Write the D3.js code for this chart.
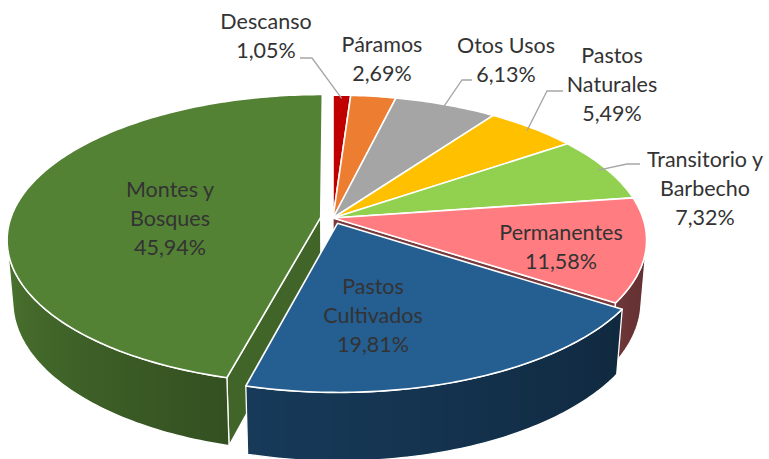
<!DOCTYPE html>
<html>
<head>
<meta charset="utf-8">
<script src="https://cdn.jsdelivr.net/npm/d3@7"></script>
<style>
  body { margin: 0; background: #fff; }
  svg text { font-family: Lato, "Open Sans", sans-serif; fill: #333; }
</style>
</head>
<body>
<div id="chart"></div>
<script>
// data
const categories = ["Descanso", "Páramos", "Otos Usos", "Pastos Naturales",
  "Transitorio y Barbecho", "Permanentes", "Pastos Cultivados", "Montes y Bosques"];
const values = [1.05, 2.69, 6.13, 5.49, 7.32, 11.58, 19.81, 45.94];
const valueLabels = ["1,05%", "2,69%", "6,13%", "5,49%", "7,32%", "11,58%", "19,81%", "45,94%"];
const nameLines = [["Descanso"], ["Páramos"], ["Otos Usos"], ["Pastos", "Naturales"],
  ["Transitorio y", "Barbecho"], ["Permanentes"], ["Pastos", "Cultivados"], ["Montes y", "Bosques"]];
const colors = ["#C00000", "#ED7D31", "#A5A5A5", "#FFC000", "#92D050", "#FF7C80", "#255E91", "#548235"];
const explode = [0, 0, 0, 0, 0, 0, 0.04, 0.04];

const width = 769;
const height = 459;

// label placement (centre x, first baseline) and leader elbows
const labelPos = [
  {x: 266, y: 29, line: [300, 58, 312, 58]},
  {x: 382, y: 52},
  {x: 506, y: 53, line: [472, 80, 462, 80]},
  {x: 612, y: 63, line: [563, 91, 547, 91]},
  {x: 705, y: 167, line: [640, 164, 627, 164]},
  {x: 561, y: 240},
  {x: 373, y: 294},
  {x: 170, y: 197}
];
const lineGap = 29;

// 3d projection of the pie (radius 1 world units)
const cx = 333, cy = 218, f = 1813, D = 5.85, H = 0.225;
const sinP = 0.457, cosP = Math.sqrt(1 - sinP * sinP);
const cam = [0, -D * cosP, D * sinP];

function proj(X, Y, Z) {
  const depth = D + Y * cosP - Z * sinP;
  const up = Y * sinP + Z * cosP;
  return [cx + f * X / depth, cy - f * up / depth, depth];
}

const sideShade = d3.scaleLinear().domain([100, 195, 260]).range([0.37, 0.62, 0.9]).clamp(true);
function shade(c, k) {
  const r = d3.rgb(c);
  return d3.rgb(r.r * k, r.g * k, r.b * k).formatHex();
}

const data = categories.map((c, i) => ({name: c, value: values[i], i: i}));
const arcs = d3.pie().sort(null).value(d => d.value).startAngle(0).endAngle(2 * Math.PI)(data);

const svg = d3.select("#chart").append("svg")
  .attr("width", width)
  .attr("height", height);
const defs = svg.append("defs");

const faces = [];
const tops = [];
const step = Math.PI / 180;
let gid = 0;

arcs.forEach(a => {
  const i = a.data.i;
  const mid = (a.startAngle + a.endAngle) / 2;
  const ox = explode[i] * Math.sin(mid), oy = explode[i] * Math.cos(mid);
  const pt = (r, t, z) => proj(ox + r * Math.sin(t), oy + r * Math.cos(t), z);

  const n = Math.max(2, Math.ceil((a.endAngle - a.startAngle) / step));
  const angs = d3.range(n + 1).map(k => a.startAngle + (a.endAngle - a.startAngle) * k / n);

  // top face
  const topPts = [pt(0, 0, 0)].concat(angs.map(t => pt(1, t, 0)));
  tops.push({pts: topPts, fill: colors[i]});

  // outer wall, only the part facing the camera
  let run = [];
  const runs = [];
  angs.forEach(t => {
    const px = ox + Math.sin(t), py = oy + Math.cos(t);
    const vis = (cam[0] - px) * Math.sin(t) + (cam[1] - py) * Math.cos(t) > 0;
    if (vis) run.push(t);
    else if (run.length) { runs.push(run); run = []; }
  });
  if (run.length) runs.push(run);
  runs.filter(r => r.length > 1).forEach(ta => {
    const outline = ta.map(t => pt(1, t, 0)).concat(ta.slice().reverse().map(t => pt(1, t, -H)));
    const xs = ta.map(t => pt(1, t, 0)[0]);
    const x0 = d3.min(xs), x1 = d3.max(xs);
    const id = "side" + (gid++);
    const grad = defs.append("linearGradient").attr("id", id)
      .attr("gradientUnits", "userSpaceOnUse")
      .attr("x1", x0).attr("x2", x1).attr("y1", 0).attr("y2", 0);
    const stops = ta.map((t, k) => ({o: (xs[k] - x0) / Math.max(1e-6, x1 - x0),
      c: shade(colors[i], sideShade(t * 180 / Math.PI))}))
      .sort((p, q) => p.o - q.o);
    grad.selectAll("stop").data(stops).enter().append("stop")
      .attr("offset", d => d.o)
      .attr("stop-color", d => d.c);
    faces.push({pts: outline, fill: "url(#" + id + ")", depth: d3.mean(outline, p => p[2])});
  });

  // cut faces
  [[a.startAngle, -1], [a.endAngle, 1]].forEach(([t, s]) => {
    const nx = s * Math.cos(t), ny = -s * Math.sin(t);
    const px = ox + 0.5 * Math.sin(t), py = oy + 0.5 * Math.cos(t);
    if ((cam[0] - px) * nx + (cam[1] - py) * ny <= 0) return;
    const q = [pt(0, t, 0), pt(1, t, 0), pt(1, t, -H), pt(0, t, -H)];
    faces.push({pts: q, fill: shade(colors[i], 0.58 + 0.2 * nx), depth: d3.mean(q, p => p[2])});
  });
});

const line = d3.line().x(p => p[0]).y(p => p[1]);

faces.sort((a, b) => b.depth - a.depth);
svg.selectAll("path.side").data(faces).enter().append("path")
  .attr("class", "side")
  .attr("d", d => line(d.pts) + "Z")
  .attr("fill", d => d.fill)
  .attr("stroke", "#fff")
  .attr("stroke-width", 1.3)
  .attr("stroke-linejoin", "round");

svg.selectAll("path.top").data(tops).enter().append("path")
  .attr("class", "top")
  .attr("d", d => line(d.pts) + "Z")
  .attr("fill", d => d.fill)
  .attr("stroke", "#fff")
  .attr("stroke-width", 1.6)
  .attr("stroke-linejoin", "round");

// leader lines
arcs.forEach(a => {
  const i = a.data.i;
  const lp = labelPos[i];
  if (!lp.line) return;
  const mid = (a.startAngle + a.endAngle) / 2;
  const end = proj(0.97 * Math.sin(mid), 0.97 * Math.cos(mid), 0);
  svg.append("path")
    .attr("d", line([[lp.line[0], lp.line[1]], [lp.line[2], lp.line[3]], end]))
    .attr("fill", "none")
    .attr("stroke", "#a6a6a6")
    .attr("stroke-width", 1.3);
});

// labels
arcs.forEach(a => {
  const i = a.data.i;
  const lp = labelPos[i];
  const t = svg.append("text")
    .attr("text-anchor", "middle")
    .attr("font-size", 21.5);
  nameLines[i].concat([valueLabels[i]]).forEach((s, k) => {
    t.append("tspan").attr("x", lp.x).attr("y", lp.y + k * lineGap).text(s);
  });
});
</script>
</body>
</html>
